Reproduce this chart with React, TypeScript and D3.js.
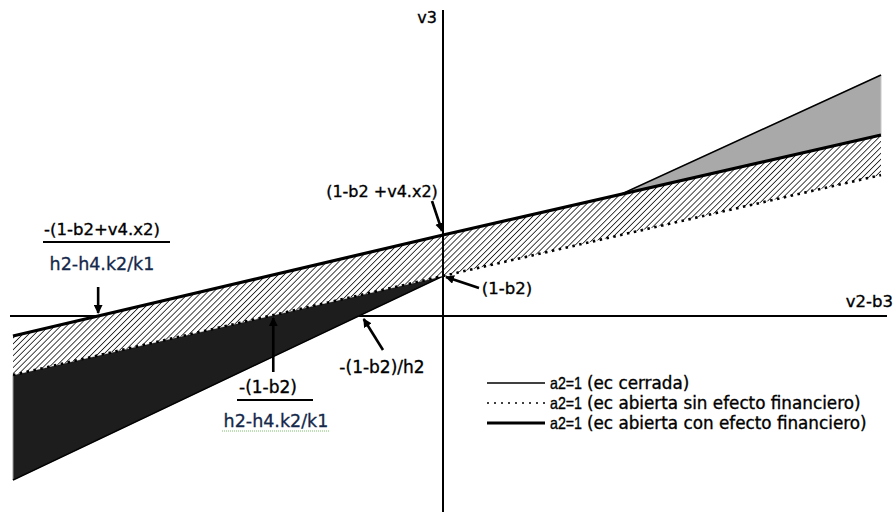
import React from 'react';
import * as d3 from 'd3';

// knots along v2-b3 (left edge, vertical axis, right edge)
const xKnots = [-10, 0, 10];
// v3 values of the three schedules at those knots
const cerrada = [-8.2, 2.0, 12.05];
const sinEfecto = [-2.95, 2.0, 7.05];
const conEfecto = [-1.0, 4.05, 9.05];

const legendKeys = ['a2=1', 'a2=1', 'a2=1'];
const legendLabels = [
  '(ec cerrada)',
  '(ec abierta sin efecto financiero)',
  '(ec abierta con efecto financiero)',
];

const W = 896;
const H = 520;
const font = '"DejaVu Sans", Verdana, sans-serif';
const narrow = '"Liberation Sans", Arial, sans-serif';

// where a series crosses v3 = 0 (linear between knots)
const zeroCross = (vals: number[]) => {
  for (let i = 0; i < vals.length - 1; i++) {
    if ((vals[i] <= 0 && vals[i + 1] >= 0) || (vals[i] >= 0 && vals[i + 1] <= 0)) {
      const t = (0 - vals[i]) / (vals[i + 1] - vals[i]);
      return xKnots[i] + t * (xKnots[i + 1] - xKnots[i]);
    }
  }
  return 0;
};

// where two series cross between two knots
const crossing = (a: number[], b: number[], i: number) => {
  const d0 = a[i] - b[i];
  const d1 = a[i + 1] - b[i + 1];
  const t = d0 / (d0 - d1);
  return {
    x: xKnots[i] + t * (xKnots[i + 1] - xKnots[i]),
    y: a[i] + t * (a[i + 1] - a[i]),
  };
};

export default function App() {
  const x = d3.scaleLinear().domain([-10, 0, 10]).range([13, 443, 881]);
  const y = d3.scaleLinear().domain([-10, 15]).range([516, 16]);

  const pts = (vals: number[]) => xKnots.map((k, i) => [k, vals[i]] as [number, number]);
  const line = d3.line<[number, number]>().x((d) => x(d[0])).y((d) => y(d[1]));

  type Band = { x: number; lo: number; hi: number };
  const area = d3
    .area<Band>()
    .x((d) => x(d.x))
    .y0((d) => y(d.lo))
    .y1((d) => y(d.hi));

  // dark: between dotted and thin, left of the axis
  const dark: Band[] = [0, 1].map((i) => ({ x: xKnots[i], lo: cerrada[i], hi: sinEfecto[i] }));
  // hatched: between thick and dotted everywhere
  const hatch: Band[] = xKnots.map((k, i) => ({ x: k, lo: sinEfecto[i], hi: conEfecto[i] }));
  // gray: where the thin line rises above the thick one
  const cx = crossing(cerrada, conEfecto, 1);
  const gray: Band[] = [
    { x: cx.x, lo: cx.y, hi: cx.y },
    { x: xKnots[2], lo: conEfecto[2], hi: cerrada[2] },
  ];

  const x0 = x(0);
  const y0 = y(0);
  const xThick = x(zeroCross(conEfecto));
  const xDot = x(zeroCross(sinEfecto));
  const xThin = x(zeroCross(cerrada));

  const arrows = [
    { x1: xThick, y1: 287, x2: xThick, y2: y0 - 3 },
    { x1: xDot + 4, y1: 372, x2: xDot + 4, y2: y0 + 2 },
    { x1: 383, y1: 350, x2: xThin + 5, y2: y0 + 3 },
    { x1: 432, y1: 201, x2: x0 - 1, y2: y(conEfecto[1]) - 4 },
    { x1: 479, y1: 288, x2: x0 + 3, y2: y(cerrada[1]) + 1 },
  ];

  const legendY = [383, 403, 423];
  const ink = { stroke: '#000', strokeWidth: 0.35 };
  const blue = { fill: '#14284a', stroke: '#14284a', strokeWidth: 0.3 };

  return (
    <svg
      width={W}
      height={H}
      style={{ position: 'absolute', left: 0, top: 0, background: '#fff' }}
      fontFamily={font}
    >
      <defs>
        <pattern id="hatch" width="4.2" height="4.2" patternUnits="userSpaceOnUse" patternTransform="rotate(45)">
          <rect width="4.2" height="4.2" fill="#fff" />
          <line x1="0" y1="0" x2="0" y2="4.2" stroke="#222" strokeWidth="1.7" />
        </pattern>
        <marker id="head" viewBox="0 0 10 10" refX="9" refY="5" markerWidth="3.4" markerHeight="3.4" orient="auto">
          <path d="M0,0 L10,5 L0,10 z" fill="#000" />
        </marker>
      </defs>

      {/* horizontal axis */}
      <line x1={10} x2={887} y1={y0} y2={y0} stroke="#000" strokeWidth={2} />

      {/* filled regions */}
      <path d={area(dark) ?? ''} fill="#1d1d1d" stroke="#9a9a9a" strokeWidth={1} />
      <path d={area(gray) ?? ''} fill="#a9a9a9" stroke="#c8c8c8" strokeWidth={1} />
      <path d={line(pts(cerrada)) ?? ''} fill="none" stroke="#000" strokeWidth={1.6} />
      <path d={area(hatch) ?? ''} fill="url(#hatch)" />

      {/* vertical axis */}
      <line x1={x0} x2={x0} y1={10} y2={512} stroke="#000" strokeWidth={2} />

      {/* schedules */}
      <path d={line(pts(sinEfecto)) ?? ''} fill="none" stroke="#000" strokeWidth={2.6} strokeDasharray="2.5,4.5" />
      <path d={line(pts(conEfecto)) ?? ''} fill="none" stroke="#000" strokeWidth={3.2} />

      {/* axis titles */}
      <text x={437} y={23} fontSize={16} textAnchor="end" {...ink}>v3</text>
      <text x={893} y={307} fontSize={16.5} textAnchor="end" {...ink}>v2-b3</text>

      {/* annotations */}
      {arrows.map((a, i) => (
        <line key={i} {...a} stroke="#000" strokeWidth={2.6} markerEnd="url(#head)" />
      ))}
      <text x={382} y={197} fontSize={16} textAnchor="middle" {...ink}>(1-b2 +v4.x2)</text>
      <text x={507} y={294} fontSize={16.5} textAnchor="middle" {...ink}>(1-b2)</text>
      <text x={382} y={373} fontSize={17} textAnchor="middle" {...ink}>-(1-b2)/h2</text>

      <text x={102} y={235} fontSize={16.5} textAnchor="middle" {...ink}>-(1-b2+v4.x2)</text>
      <line x1={43} x2={170} y1={242} y2={242} stroke="#000" strokeWidth={2} />
      <text x={102} y={270} fontSize={17.5} textAnchor="middle" {...blue}>h2-h4.k2/k1</text>

      <text x={268} y={393} fontSize={17} textAnchor="middle" {...ink}>-(1-b2)</text>
      <line x1={237} x2={313} y1={400} y2={400} stroke="#000" strokeWidth={2} />
      <text x={276} y={427} fontSize={17.5} textAnchor="middle" {...blue}>h2-h4.k2/k1</text>
      <line x1={222} x2={330} y1={431} y2={431} stroke="#7cbf6a" strokeWidth={1} strokeDasharray="1,1" />

      {/* legend */}
      {legendLabels.map((lab, i) => (
        <g key={lab}>
          <line
            x1={487}
            x2={545}
            y1={legendY[i]}
            y2={legendY[i]}
            stroke="#000"
            strokeWidth={i === 2 ? 2.8 : i === 1 ? 1.3 : 1.4}
            strokeDasharray={i === 1 ? '2,5' : undefined}
          />
          <text
            x={550}
            y={legendY[i] + 5.5}
            fontSize={16.5}
            fontFamily={narrow}
            textLength={32}
            lengthAdjust="spacingAndGlyphs"
            {...ink}
          >
            {legendKeys[i]}
          </text>
          <text x={587} y={legendY[i] + 5.5} fontSize={16.8} {...ink}>{lab}</text>
        </g>
      ))}
    </svg>
  );
}
